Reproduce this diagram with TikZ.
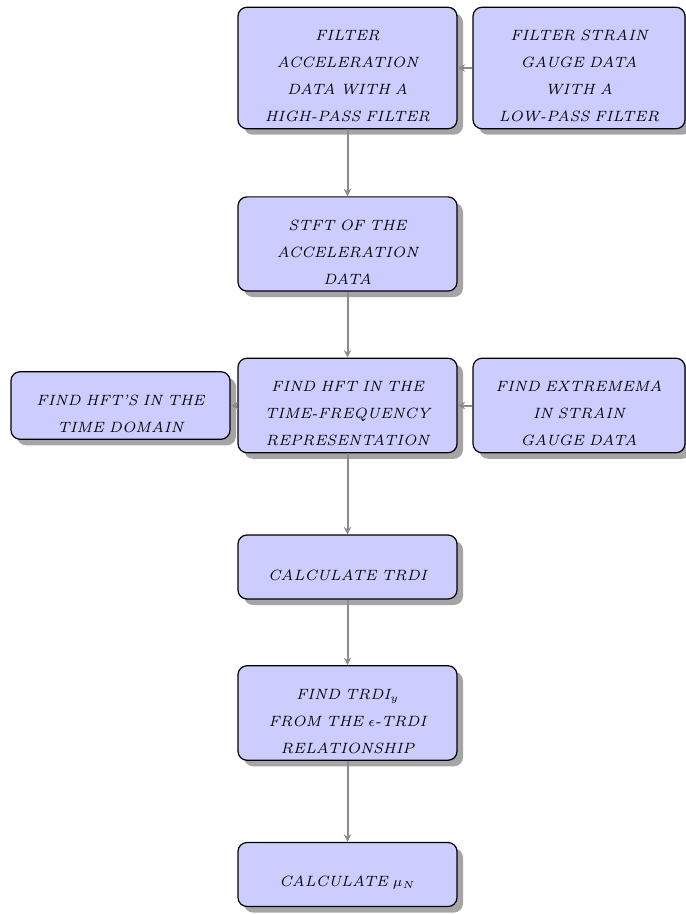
\documentclass[tikz,border=0pt]{standalone}
\usetikzlibrary{shadows,arrows.meta}

\begin{document}
\begin{tikzpicture}[x=0.5pt,y=-0.5pt,
	block/.style={rectangle, draw=black, semithick, fill=blue!20, rounded corners=4.5pt,
		drop shadow={shadow xshift=3pt, shadow yshift=-3pt, opacity=.5, fill=black!70},
		font=\fontsize{7.45}{13.5}\selectfont\itshape, align=center, text width=100pt,
		text height=13.5pt, inner xsep=3pt, inner ysep=3.3pt,
		minimum width=109.5pt, minimum height=32pt},
	sideblock/.style={block, minimum width=106pt},
	line/.style={draw=black!45, line width=1pt, -{Stealth[length=3.8pt,width=3.8pt]}}]
		\useasboundingbox (0,0) rectangle (685,914);
		
		%main column
		\node[block] (filteracc) at (347.5,68) {FILTER\\ ACCELERATION\\ DATA WITH A\\ HIGH-PASS FILTER};
		\node[block] (stft) at (347.5,244) {STFT OF THE\\ ACCELERATION\\ DATA};
		\node[block] (findhft) at (347.5,405.5) {FIND HFT IN THE\\ TIME-FREQUENCY\\ REPRESENTATION};
		\node[block] (calctrdi) at (347.5,567) {CALCULATE TRDI};
		\node[block] (findtrdiy) at (347.5,713) {FIND TRDI$_y$\\ FROM THE $\epsilon$-TRDI\\ RELATIONSHIP};
		\node[block] (calcmu) at (347.5,874.5) {CALCULATE $\mu_N$};
		
		%side boxes
		\node[sideblock] (filterstrain) at (579,68) {FILTER STRAIN\\ GAUGE DATA\\ WITH A\\ LOW-PASS FILTER};
		\node[sideblock] (extrema) at (579,405.5) {FIND EXTREMEMA\\ IN STRAIN\\ GAUGE DATA};
		\node[block] (timedomain) at (120.5,405.5) {FIND HFT'S IN THE\\ TIME DOMAIN};
		
		%arrows
		\draw[line] (filteracc) -- (stft);
		\draw[line] (stft) -- (findhft);
		\draw[line] (findhft) -- (calctrdi);
		\draw[line] (calctrdi) -- (findtrdiy);
		\draw[line] (findtrdiy) -- (calcmu);
		\draw[line] (filterstrain) -- (filteracc);
		\draw[line] (extrema) -- (findhft);
		\draw[line] (findhft) -- (timedomain);
		
		\end{tikzpicture}
\end{document}
